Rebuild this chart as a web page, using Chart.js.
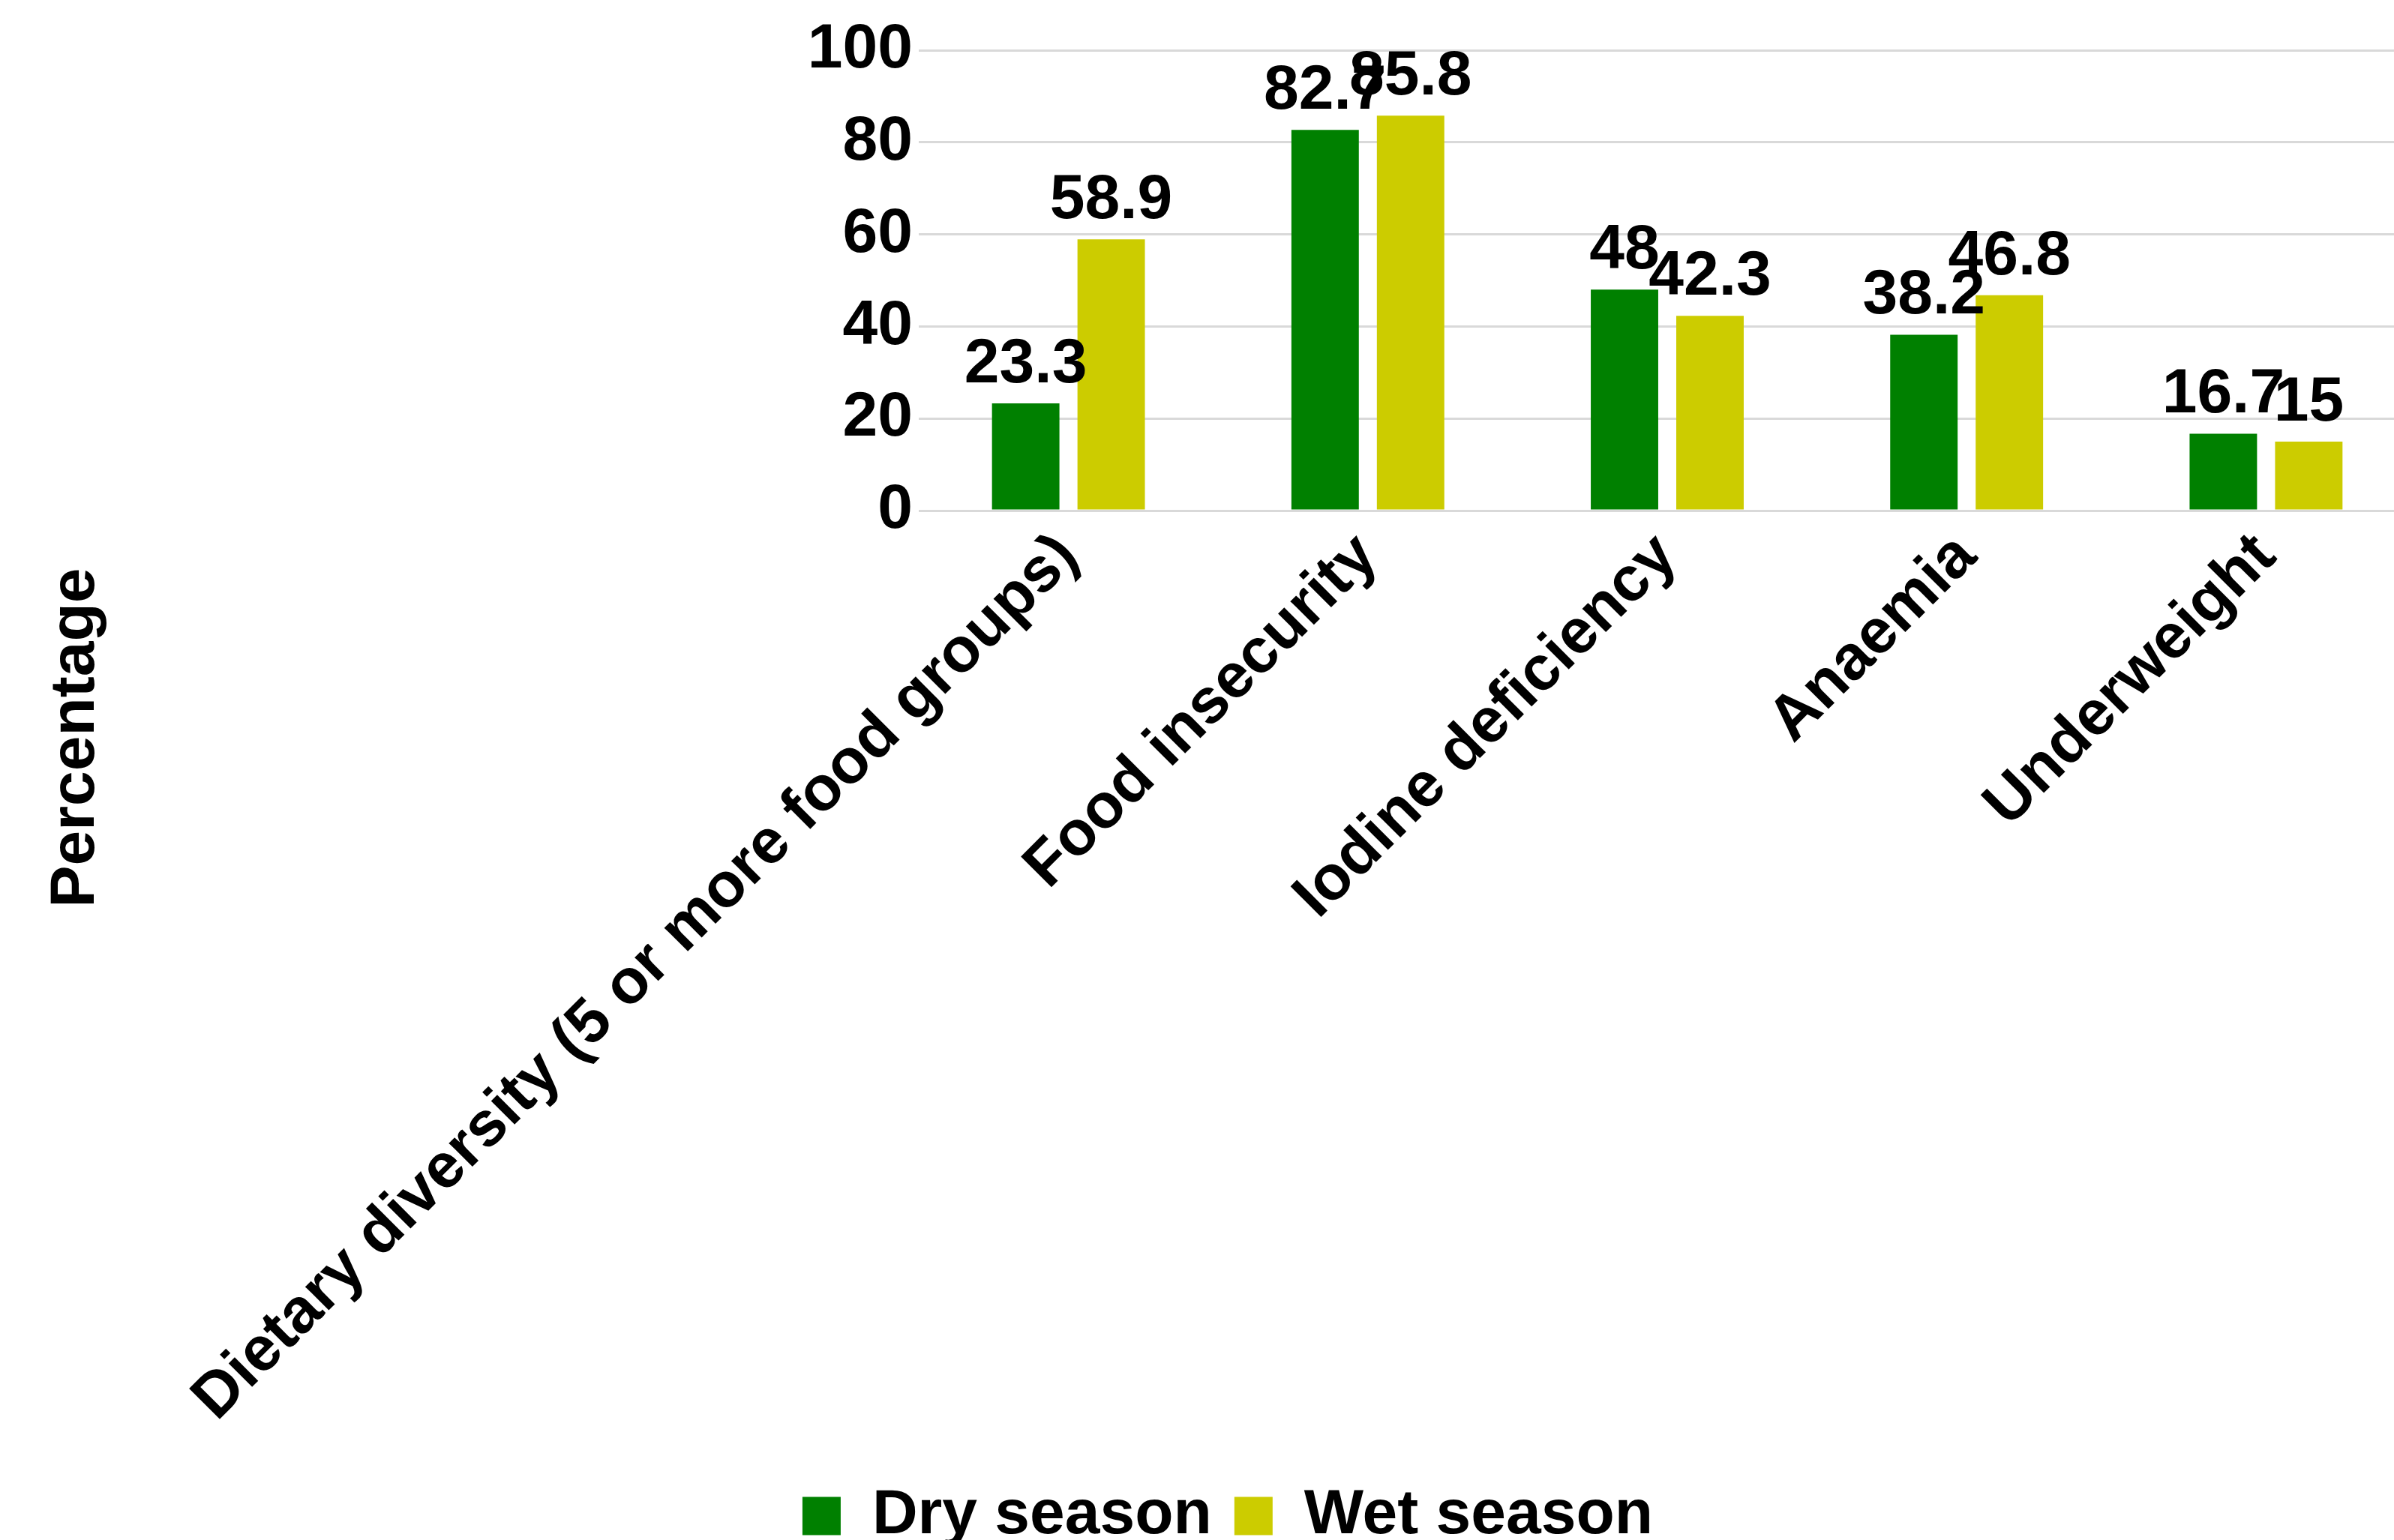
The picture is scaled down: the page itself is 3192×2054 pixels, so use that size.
<!DOCTYPE html>
<html>
<head>
<meta charset="utf-8">
<script src="https://cdn.jsdelivr.net/npm/chart.js@4.4.1/dist/chart.umd.min.js"></script>
<style>
  html, body { margin: 0; padding: 0; background: #fff; overflow: hidden; }
  #wrap { position: relative; width: 3221px; height: 2074px; }
</style>
</head>
<body>
<div id="wrap"><canvas id="seasonChart"></canvas></div>
<script>
const categories = [
  "Dietary diversity (5 or more food groups)",
  "Food insecurity",
  "Iodine deficiency",
  "Anaemia",
  "Underweight"
];
const drySeason = [23.3, 82.7, 48, 38.2, 16.7];
const wetSeason = [58.9, 85.8, 42.3, 46.8, 15];
const yTicks = [0, 20, 40, 60, 80, 100];
const yTitle = "Percentage";

const FONT = "'Liberation Sans', Arial, sans-serif";

// value labels above each bar
const barValueLabels = {
  id: "barValueLabels",
  afterDatasetsDraw(chart) {
    const ctx = chart.ctx;
    ctx.save();
    ctx.font = "bold 84px " + FONT;
    ctx.fillStyle = "#000";
    ctx.textAlign = "center";
    ctx.textBaseline = "alphabetic";
    chart.data.datasets.forEach(function (ds, i) {
      chart.getDatasetMeta(i).data.forEach(function (bar, j) {
        ctx.fillText(String(ds.data[j]), bar.x, bar.y - 28);
      });
    });
    ctx.restore();
  }
};

// y axis title sits far left, centred lower than the plot
const sideTitle = {
  id: "sideTitle",
  afterDraw(chart) {
    const ctx = chart.ctx;
    ctx.save();
    ctx.translate(102, 984);
    ctx.rotate(-Math.PI / 2);
    ctx.font = "bold 84px " + FONT;
    ctx.fillStyle = "#000";
    ctx.textAlign = "center";
    ctx.textBaseline = "middle";
    ctx.fillText(yTitle, 0, 0);
    ctx.restore();
  }
};

new Chart(document.getElementById("seasonChart"), {
  type: "bar",
  data: {
    labels: categories,
    datasets: [
      {
        label: "Dry season",
        data: drySeason,
        backgroundColor: "#008000",
        categoryPercentage: 0.571,
        barPercentage: 0.789
      },
      {
        label: "Wet season",
        data: wetSeason,
        backgroundColor: "#cccc00",
        categoryPercentage: 0.571,
        barPercentage: 0.789
      }
    ]
  },
  options: {
    responsive: true,
    maintainAspectRatio: false,
    animation: false,
    devicePixelRatio: 1,
    layout: { padding: { top: 67, right: 0, left: 53, bottom: 0 } },
    plugins: {
      tooltip: { enabled: false },
      legend: {
        position: "bottom",
        labels: {
          boxWidth: 51,
          boxHeight: 51,
          padding: 30,
          color: "#000",
          font: { family: FONT, size: 84, weight: "bold" }
        }
      }
    },
    scales: {
      x: {
        grid: { display: false },
        border: { display: false },
        afterFit: function (scale) {
          scale.height = 1269;
        },
        ticks: {
          color: "#000",
          maxRotation: 45,
          minRotation: 45,
          padding: 4,
          font: { family: FONT, size: 84, weight: "bold" }
        }
      },
      y: {
        min: 0,
        max: 100,
        grid: { color: "#d9d9d9", lineWidth: 3, drawTicks: false },
        border: { display: false },
        afterFit: function (scale) {
          scale.width = 1172;
        },
        ticks: {
          stepSize: 10,
          color: "#000",
          padding: 8,
          font: { family: FONT, size: 84, weight: "bold" },
          callback: function (v) {
            return yTicks.includes(v) ? v : "";
          }
        }
      }
    }
  },
  plugins: [barValueLabels, sideTitle]
});
</script>
</body>
</html>
